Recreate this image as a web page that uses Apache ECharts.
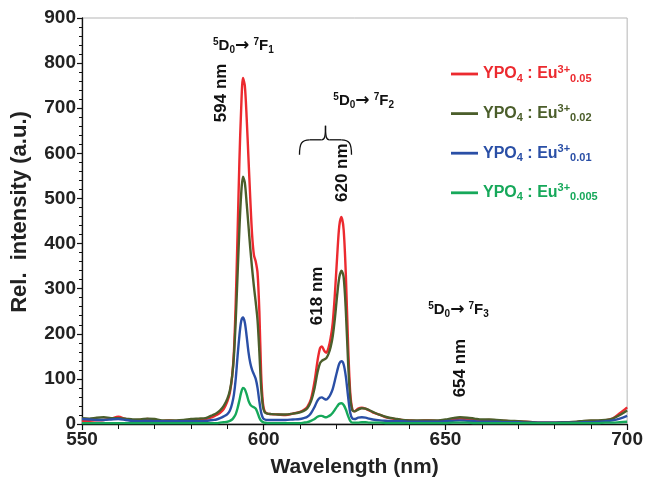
<!DOCTYPE html>
<html>
<head>
<meta charset="utf-8">
<script src="https://cdn.jsdelivr.net/npm/echarts@6/dist/echarts.min.js"></script>
<style>
  html, body { margin: 0; padding: 0; background: #fff; }
  #chart { width: 646px; height: 483px; }
</style>
</head>
<body>
<div id="chart"></div>
<script>
// Emission spectra of YPO4:Eu3+ at four Eu concentrations
const wavelengths = [
  550, 552, 554, 556, 558, 560, 562, 564, 566, 568, 570, 572, 574, 576, 578, 580, 582, 584,
  586, 587, 588, 589, 590, 590.7, 591.3, 591.8, 592.3, 592.8, 593.3, 593.8, 594.3, 594.8,
  595.3, 595.8, 596.3, 596.8, 597.3, 597.8, 598.3, 598.8, 599.3, 599.8, 600.3, 601,
  602, 604, 606, 608, 610, 611, 612, 613, 614, 614.8, 615.5, 616, 616.6, 617.2, 617.8,
  618.4, 619, 619.6, 620.2, 620.8, 621.4, 622, 622.6, 623.2, 623.8, 624.4, 625, 626, 627,
  628, 629,
  630, 632, 634, 636, 638, 640, 642, 644, 646, 648, 650, 652, 654, 656, 658, 660, 662, 664,
  666, 668, 670, 672, 674, 676, 678, 680, 682, 684, 686, 688, 690, 692, 694, 696, 698, 700
];

const euConc = ['0.05', '0.02', '0.01', '0.005'];
const lineColors = ['#ec2a2f', '#4b5e2b', '#2a4fa6', '#16a85a'];

const intensity005 = [
  6, 7, 8, 9, 12, 16, 11, 8, 9, 11, 8, 7, 8, 7, 8, 9, 10, 11,
  16, 20, 25, 33, 50, 70, 105, 160, 270, 420, 580, 700, 767, 750,
  680, 590, 500, 420, 375, 360, 335, 250, 110, 45, 27, 23,
  22, 21, 20, 23, 27, 31, 38, 55, 95, 140, 168, 172, 163, 158, 168,
  190, 225, 290, 370, 440, 459, 430, 330, 180, 70, 32, 28, 34, 36,
  34, 30,
  26, 20, 14, 11, 9, 8, 7, 8, 8, 7, 8, 10, 12, 11, 9, 8, 9, 8,
  7, 6, 6, 5, 4, 3, 3, 3, 3, 3, 4, 6, 7, 7, 8, 12, 24, 37
];
const intensity002 = [
  13, 12, 14, 15, 13, 13, 12, 10, 10, 12, 11, 8, 8, 8, 9, 11, 12, 13,
  20, 24, 30, 40, 56, 75, 105, 150, 230, 330, 430, 510, 548, 535,
  490, 440, 390, 345, 305, 270, 230, 160, 80, 38, 26, 23,
  22, 21, 21, 23, 26, 29, 35, 50, 80, 115, 135, 140, 143, 146, 155,
  170, 195, 235, 285, 325, 340, 325, 250, 140, 58, 30, 28, 32, 35,
  34, 31,
  27, 20, 15, 12, 9, 8, 8, 8, 8, 8, 10, 13, 15, 14, 12, 10, 10, 9,
  8, 7, 6, 5, 4, 3, 3, 3, 4, 4, 5, 7, 8, 8, 9, 12, 20, 30
];
const intensity001 = [
  11, 10, 9, 9, 10, 11, 9, 7, 6, 7, 6, 6, 6, 6, 6, 6, 6, 7,
  9, 10, 13, 17, 22, 30, 45, 65, 100, 150, 195, 228, 236, 225,
  195, 160, 135, 120, 110, 100, 80, 50, 25, 13, 10, 9,
  9, 9, 9, 10, 11, 13, 16, 24, 38, 52, 58, 59, 56, 54, 58,
  66, 78, 97, 117, 134, 139, 132, 105, 62, 25, 12, 11, 14, 15,
  14, 12,
  10, 8, 7, 6, 6, 5, 5, 5, 5, 5, 6, 7, 8, 7, 6, 5, 5, 5,
  4, 4, 4, 3, 3, 3, 3, 3, 3, 3, 3, 4, 4, 5, 6, 8, 12, 18
];
const intensity0005 = [
  2, 2, 2, 2, 2, 2, 2, 2, 2, 2, 2, 2, 2, 2, 2, 2, 2, 2,
  2, 2, 3, 4, 5, 7, 10, 15, 22, 35, 52, 70, 80, 77,
  66, 52, 43, 39, 37, 34, 25, 14, 7, 4, 3, 2,
  2, 2, 2, 2, 2, 3, 4, 7, 11, 16, 18, 18, 16, 15, 17,
  20, 25, 32, 39, 45, 46, 42, 32, 18, 7, 3, 3, 3, 4,
  4, 3,
  3, 3, 2, 2, 2, 2, 2, 2, 2, 2, 2, 3, 3, 3, 2, 2, 2, 2,
  2, 2, 2, 2, 2, 2, 2, 2, 2, 2, 2, 2, 2, 2, 3, 3, 4, 5
];

const xTicks = { min: 550, max: 700, step: 50 };
const yTicks = { min: 0, max: 900, step: 100 };

const spectra = [intensity005, intensity002, intensity001, intensity0005];

const FONT = '"Liberation Sans", Arial, Helvetica, sans-serif';

const chart = echarts.init(document.getElementById('chart'), null, { renderer: 'canvas' });

function legendRich(color) {
  return {
    b: { fontSize: 16, fontWeight: 'bold', fontFamily: FONT, color: color, lineHeight: 20, verticalAlign: 'middle' },
    p: { fontSize: 11, fontWeight: 'bold', fontFamily: FONT, color: color, lineHeight: 12, verticalAlign: 'top' },
    s: { fontSize: 11, fontWeight: 'bold', fontFamily: FONT, color: color, lineHeight: 12, verticalAlign: 'bottom' }
  };
}

const legends = euConc.map((c, i) => ({
  data: ['YPO4 : Eu3+ ' + c],
  left: 446,
  top: 59 + i * 39.6,
  orient: 'vertical',
  icon: 'rect',
  itemWidth: 27,
  itemHeight: 2.8,
  selectedMode: false,
  formatter: () => '{b|YPO}{s|4}{b| : Eu}{p|3+}{s|' + c + '}',
  textStyle: { color: lineColors[i], rich: legendRich(lineColors[i]) }
}));

const option = {
  animation: false,
  backgroundColor: '#fff',
  grid: {
    left: 82, right: 18, top: 18, bottom: 59,
    show: true, borderColor: '#b5b5b5', borderWidth: 1, backgroundColor: 'transparent'
  },
  legend: legends,
  xAxis: {
    type: 'value',
    min: xTicks.min, max: xTicks.max, interval: xTicks.step,
    name: 'Wavelength (nm)',
    nameLocation: 'middle',
    nameGap: 33,
    nameTextStyle: { fontSize: 21, fontWeight: 'bold', fontFamily: FONT, color: '#222' },
    axisLine: { show: true, lineStyle: { color: '#111', width: 1.3 } },
    axisTick: { show: true, inside: false, length: 6, lineStyle: { color: '#111', width: 1.2 } },
    minorTick: { show: true, splitNumber: 5, length: 5, lineStyle: { color: '#111', width: 1 } },
    splitLine: { show: false },
    axisLabel: { fontSize: 19, fontWeight: 'bold', fontFamily: FONT, color: '#222', margin: 6 }
  },
  yAxis: {
    type: 'value',
    min: yTicks.min, max: yTicks.max, interval: yTicks.step,
    name: 'Rel.  intensity (a.u.)',
    nameLocation: 'middle',
    nameGap: 51,
    nameTextStyle: { fontSize: 22, fontWeight: 'bold', fontFamily: FONT, color: '#222', padding: [0, 0, 0, 18] },
    axisLine: { show: true, lineStyle: { color: '#111', width: 1.3 } },
    axisTick: { show: true, inside: false, length: 5, lineStyle: { color: '#111', width: 1.2 } },
    minorTick: { show: true, splitNumber: 5, length: 3, lineStyle: { color: '#111', width: 1 } },
    splitLine: { show: false },
    axisLabel: { fontSize: 19, fontWeight: 'bold', fontFamily: FONT, color: '#222', margin: 6 }
  },
  series: spectra.map((arr, i) => ({
    name: 'YPO4 : Eu3+ ' + euConc[i],
    type: 'line',
    symbol: 'none',
    smooth: 0.3,
    z: 2 + i,
    lineStyle: { color: lineColors[i], width: 2.4 },
    itemStyle: { color: lineColors[i] },
    data: wavelengths.map((w, k) => [w, arr[k]])
  }))
};

chart.setOption(option);

// Transition labels, peak labels and the bracket over the 5D0->7F2 doublet
const annRich = {
  b: { fontSize: 15, fontWeight: 'bold', fontFamily: FONT, color: '#111', lineHeight: 18, verticalAlign: 'middle' },
  a: { fontSize: 17, fontWeight: 'bold', fontFamily: '"DejaVu Sans", sans-serif', color: '#111', lineHeight: 18, verticalAlign: 'middle' },
  p: { fontSize: 10, fontWeight: 'bold', fontFamily: FONT, color: '#111', lineHeight: 11, verticalAlign: 'top' },
  s: { fontSize: 10, fontWeight: 'bold', fontFamily: FONT, color: '#111', lineHeight: 11, verticalAlign: 'bottom' }
};
function transition(j) {
  return '{p|5}{b|D}{s|0}{a|\u2192}{b| }{p|7}{b|F}{s|' + j + '}';
}
const transitions = [
  { at: [594.4, 838], j: '1' },
  { at: [627.5, 716], j: '2' },
  { at: [653.6, 253], j: '3' }
];
const peakLabels = [
  { at: [588.2, 734], text: '594 nm' },
  { at: [621.7, 557], text: '620 nm' },
  { at: [614.8, 284], text: '618 nm' },
  { at: [654.1, 124], text: '654 nm' }
];
const bracketAt = [617.0, 630];

const px = p => chart.convertToPixel({ gridIndex: 0 }, p);
const graphics = [];
transitions.forEach(t => {
  const [x, y] = px(t.at);
  graphics.push({
    type: 'text', x: x, y: y, z: 10,
    style: { text: transition(t.j), rich: annRich, align: 'center', verticalAlign: 'middle', fill: '#111' }
  });
});
peakLabels.forEach(l => {
  const [x, y] = px(l.at);
  graphics.push({
    type: 'text', x: x, y: y, rotation: Math.PI / 2, z: 10,
    style: {
      text: l.text, fill: '#111', align: 'center', verticalAlign: 'middle',
      font: 'bold 17px ' + FONT
    }
  });
});
{
  const [bx, by] = px(bracketAt);
  const stroke = { fill: null, stroke: '#111', lineWidth: 1.3 };
  const curve = (x1, y1, c1x, c1y, c2x, c2y, x2, y2) => ({
    type: 'bezierCurve',
    shape: { x1: x1, y1: y1, cpx1: c1x, cpy1: c1y, cpx2: c2x, cpy2: c2y, x2: x2, y2: y2 },
    style: stroke
  });
  const seg = (x1, y1, x2, y2) => ({ type: 'line', shape: { x1: x1, y1: y1, x2: x2, y2: y2 }, style: stroke });
  graphics.push({
    type: 'group', x: bx, y: by, z: 10,
    children: [
      curve(-26, 15, -26, 4, -24, 0, -16, 0),
      seg(-16, 0, -4, 0),
      curve(-4, 0, -1, 0, 0, -2, 0, -14),
      curve(0, -14, 0, -2, 1, 0, 4, 0),
      seg(4, 0, 16, 0),
      curve(16, 0, 24, 0, 26, 4, 26, 15)
    ]
  });
}
chart.setOption({ graphic: graphics });
</script>
</body>
</html>
